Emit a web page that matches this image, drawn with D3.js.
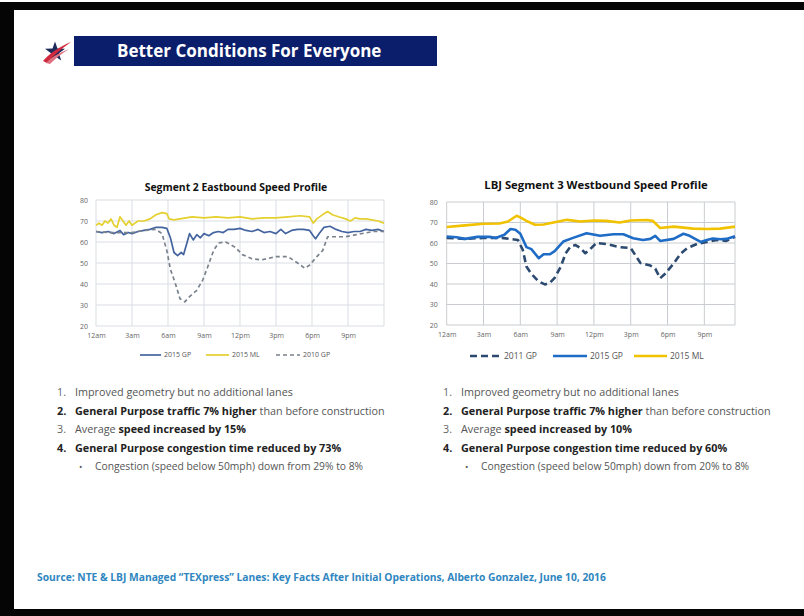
<!DOCTYPE html>
<html>
<head>
<meta charset="utf-8">
<script src="https://cdn.jsdelivr.net/npm/d3@7"></script>
<style>
  html, body { margin: 0; padding: 0; background: #fff; }
  svg { display: block; }
  text { font-family: "Open Sans", Lato, "DejaVu Sans", sans-serif; }
</style>
</head>
<body>
<svg id="slide" width="804" height="616"></svg>
<script>
// ---- Segment 2 Eastbound (hours after midnight, speed in mph) ----
const eb2015MLHours = [0,0.25,0.5,0.75,1,1.25,1.5,1.75,2,2.25,2.5,2.75,3,3.25,3.5,4,4.5,5,5.5,5.9,6.1,6.5,7,8,9,10,11,12,13,14,15,16,17,17.8,18.1,18.4,19,19.3,19.7,20.2,20.8,21.2,21.6,22,22.5,23,23.5,24];
const eb2015ML      = [68,69,68,70,69,71,68,67,72,70,68,70,68,69,70,70,71,73,74,73.5,71,70.5,71,72,71.5,72,71.5,72,71,71.5,71.5,72,72.5,72,69,71,73.5,74.5,73,72,71,70,71.5,71,71,70.5,70,69];
const eb2015GPHours = [0,0.5,1,1.5,2,2.3,2.7,3,3.5,4,4.5,5,5.5,5.9,6.2,6.5,6.8,7.1,7.3,7.6,7.8,8.1,8.4,8.7,9,9.4,9.8,10.2,10.6,11,11.5,12,12.5,13,13.5,14,14.5,15,15.4,15.8,16.3,16.8,17.3,17.8,18.1,18.3,18.6,19,19.5,20,20.5,21,21.5,22,22.5,23,23.5,24];
const eb2015GP      = [65,64.5,65,64,65.5,63.5,64.5,64,65,65.5,66,67,67,66.5,62,55,53.5,55,54,60,64,61,63.5,62,64,63,64.5,65,64.5,66,66,66.5,65.5,65,66,64.5,65,64,66,64,65.5,66,66,65.5,63,61.5,64,67,67.5,66,65,64.5,65,65,66,65.5,66,65];
const eb2010GPHours = [0,1,2,3,4,5,5.5,5.9,6.2,6.6,7,7.4,7.8,8.4,8.9,9.3,9.8,10.2,10.8,11.6,12.2,13,13.8,15,16,16.8,17.4,17.8,18.4,18.9,19.3,20,20.8,21.7,23.1,24];
const eb2010GP      = [65,64.5,64.5,64.5,65.5,66,64,56,47,40.5,33,31.5,34,37,42,48,56,59.5,60,57.5,54,52,51.5,53,53,50,47.5,49,53,56,62.5,62.5,62.5,63.5,65,65];

// ---- LBJ Segment 3 Westbound ----
const wb2015MLHours = [0,1.5,3,4.3,5,5.7,6,6.5,7.2,7.9,8.7,9.8,10.9,12,13,14.1,15,16.3,16.8,17.4,18.5,19.3,20.1,21.2,22.3,23.5];
const wb2015ML      = [67.8,68.6,69.4,69.5,70.5,73.3,72.5,70.8,68.9,69,70,71.3,70.5,71,70.8,70,71,71.2,70.8,67.3,68,67.5,67,66.8,67,68];
const wb2015GPHours = [0,0.8,1.5,2.5,3.5,4,4.7,5.2,5.6,6,6.5,6.9,7.5,7.9,8.4,8.8,9.5,10.3,11.4,12.5,13.6,14.4,15.2,16,16.6,17,17.4,18.5,19.3,19.8,20.7,21.2,21.7,22.3,22.8,23.5];
const wb2015GP      = [63.2,62.8,62,63,63,62.4,64,66.8,66.5,64.5,58,57,52.6,54.5,54.5,56,60.7,62.5,64.8,63.5,64.3,64.3,62.3,61.5,62,63.5,61,62,64.5,63.5,60.5,61.5,62.2,61.8,62,63.3];
const wb2011GPHours = [0,1.5,3,4.5,5.8,6.2,6.5,6.9,7.5,8,8.4,8.8,9.3,9.7,10.1,10.5,10.9,11.3,11.7,12.2,13,14.1,15,15.8,16.6,17,17.4,17.8,18.5,19.1,19.6,20.4,21.2,22,22.8,23.5];
const wb2011GP      = [62.5,62,62.5,62.5,61.5,56.7,48.5,45,41.2,39.8,40.5,43,48.5,55,58.3,59,57.5,55,57,60,59.5,58,57.5,50.2,49,47.5,42.8,45,50,55,57.5,59.5,60.5,61.5,61,63];

// Axis ticks
const yTicks = [20, 30, 40, 50, 60, 70, 80];
const hourTicks = [0, 3, 6, 9, 12, 15, 18, 21];
const ebHourLabels = ["12am", "3am", "6am", "9am", "12pm", "3pm", "6pm", "9pm"];
const wbHourLabels = ["12am", "3am", "6am", "9am", "12pm", "3pm", "6pm", "9pm"];

// Bullet text blocks (segments: [text, bold])
const ebNotes = [
  ["1.", [["Improved geometry but no additional lanes", false]]],
  ["2.", [["General Purpose traffic 7% higher", true], [" than before construction", false]]],
  ["3.", [["Average ", false], ["speed increased by 15%", true]]],
  ["4.", [["General Purpose congestion time reduced by 73%", true]]]
];
const ebSub = "Congestion (speed below 50mph) down from 29% to 8%";
const wbNotes = [
  ["1.", [["Improved geometry but no additional lanes", false]]],
  ["2.", [["General Purpose traffic 7% higher", true], [" than before construction", false]]],
  ["3.", [["Average ", false], ["speed increased by 10%", true]]],
  ["4.", [["General Purpose congestion time reduced by 60%", true]]]
];
const wbSub = "Congestion (speed below 50mph) down from 20% to 8%";

const svg = d3.select("#slide");

// ---- slide frame ----
svg.append("rect").attr("x", 0).attr("y", 0).attr("width", 804).attr("height", 616).attr("fill", "#fff");
svg.append("rect").attr("x", 0).attr("y", 2).attr("width", 804).attr("height", 8).attr("fill", "#050505");
svg.append("rect").attr("x", 0).attr("y", 2).attr("width", 14).attr("height", 614).attr("fill", "#050505");
svg.append("rect").attr("x", 0).attr("y", 609).attr("width", 804).attr("height", 7).attr("fill", "#050505");

// ---- header ----
svg.append("rect").attr("x", 74).attr("y", 36).attr("width", 363).attr("height", 30).attr("fill", "#0b1e6b");
svg.append("text").attr("x", 117).attr("y", 57).attr("fill", "#fff")
  .attr("font-size", 17).attr("font-weight", 700).text("Better Conditions For Everyone");

// star logo with swoosh
const logo = svg.append("g").attr("transform", "translate(55,52)");
const starPts = d3.range(10).map(i => {
  const r = i % 2 ? 4.2 : 10.5;
  const a = -Math.PI / 2 + i * Math.PI / 5;
  return [r * Math.cos(a), r * Math.sin(a)];
});
logo.append("path").attr("d", d3.line()(starPts) + "Z").attr("fill", "#1d2a5c");
logo.append("path").attr("d", "M-12,9 C-4,0 6,-6 16,-10 C6,-3 -2,4 -8,11 Z").attr("fill", "#d0283c");
logo.append("path").attr("d", "M-9,11 C-2,4 6,0 14,-3 C6,2 0,7 -5,12 Z").attr("fill", "#e07080");

// ---- chart builder ----
function drawChart(cfg) {
  const g = svg.append("g");
  const x = d3.scaleLinear().domain(cfg.xDomain).range([cfg.left, cfg.right]);
  const y = d3.scaleLinear().domain([20, 80]).range([cfg.bottom, cfg.top]);

  // gridlines
  g.append("g").selectAll("line").data(yTicks).join("line")
    .attr("x1", cfg.left).attr("x2", cfg.right)
    .attr("y1", d => y(d)).attr("y2", d => y(d))
    .attr("stroke", cfg.gridColor).attr("stroke-width", 1);
  g.append("g").selectAll("line").data(hourTicks.concat([cfg.xDomain[1]])).join("line")
    .attr("x1", d => x(d)).attr("x2", d => x(d))
    .attr("y1", cfg.top).attr("y2", cfg.bottom)
    .attr("stroke", cfg.gridColor).attr("stroke-width", 1);

  // axes (labels only)
  const yAxis = d3.axisLeft(y).tickValues(yTicks).tickSize(0).tickPadding(cfg.yPad);
  const ya = g.append("g").attr("transform", `translate(${cfg.left},0)`).call(yAxis);
  ya.select(".domain").remove();
  ya.selectAll("text").attr("font-size", cfg.tickSize).attr("fill", "#666")
    .attr("font-family", "Lato, sans-serif");

  const xAxis = d3.axisBottom(x).tickValues(hourTicks).tickSize(0).tickPadding(cfg.xPad)
    .tickFormat((d, i) => cfg.hourLabels[i]);
  const xa = g.append("g").attr("transform", `translate(0,${cfg.bottom})`).call(xAxis);
  xa.select(".domain").remove();
  xa.selectAll("text").attr("font-size", cfg.tickSize).attr("fill", "#666")
    .attr("font-family", "Lato, sans-serif");

  // title
  g.append("text").attr("x", cfg.titleX).attr("y", cfg.titleY).attr("text-anchor", "middle")
    .attr("font-size", cfg.titleSize).attr("font-weight", 700).attr("fill", "#111").text(cfg.title);

  // series
  const line = d3.line().x(d => x(d[0])).y(d => y(d[1])).curve(d3.curveLinear);
  cfg.series.forEach(s => {
    g.append("path").datum(d3.zip(s.hours, s.values))
      .attr("d", line).attr("fill", "none")
      .attr("stroke", s.color).attr("stroke-width", s.width)
      .attr("stroke-dasharray", s.dash || null)
      .attr("stroke-linejoin", "round");
  });

  // legend
  const lg = g.append("g");
  cfg.legend.forEach(item => {
    const s = cfg.series.find(d => d.name === item.name);
    lg.append("line").attr("x1", item.x).attr("x2", item.x + item.len)
      .attr("y1", cfg.legendY).attr("y2", cfg.legendY)
      .attr("stroke", s.color).attr("stroke-width", s.width).attr("stroke-dasharray", s.dash || null);
    lg.append("text").attr("x", item.x + item.len + 3).attr("y", cfg.legendY + cfg.legendSize * 0.35)
      .attr("font-size", cfg.legendSize).attr("fill", "#555")
      .attr("font-family", "Lato, sans-serif").text(s.name);
  });
}

drawChart({
  title: "Segment 2 Eastbound Speed Profile", titleX: 236, titleY: 191, titleSize: 10.4,
  left: 96, right: 384, top: 200, bottom: 326, xDomain: [0, 24],
  gridColor: "#d9dde3", tickSize: 7, yPad: 8, xPad: 7, hourLabels: ebHourLabels,
  series: [
    { name: "2015 GP", hours: eb2015GPHours, values: eb2015GP, color: "#44649f", width: 1.7 },
    { name: "2015 ML", hours: eb2015MLHours, values: eb2015ML, color: "#e4d02e", width: 1.7 },
    { name: "2010 GP", hours: eb2010GPHours, values: eb2010GP, color: "#7a838d", width: 1.7, dash: "4,3" }
  ],
  legendY: 355, legendSize: 7,
  legend: [ { name: "2015 GP", x: 140, len: 21 }, { name: "2015 ML", x: 206, len: 23 }, { name: "2010 GP", x: 276, len: 24 } ]
});

drawChart({
  title: "LBJ Segment 3 Westbound Speed Profile", titleX: 596, titleY: 189, titleSize: 11.3,
  left: 446.7, right: 735, top: 202, bottom: 325, xDomain: [0, 23.5],
  gridColor: "#c9ccd0", tickSize: 7, yPad: 9, xPad: 7, hourLabels: wbHourLabels,
  series: [
    { name: "2011 GP", hours: wb2011GPHours, values: wb2011GP, color: "#2c4a70", width: 2.6, dash: "7,4" },
    { name: "2015 GP", hours: wb2015GPHours, values: wb2015GP, color: "#1f6cc6", width: 2.6 },
    { name: "2015 ML", hours: wb2015MLHours, values: wb2015ML, color: "#f1c200", width: 2.6 }
  ],
  legendY: 356, legendSize: 8.5,
  legend: [ { name: "2011 GP", x: 470, len: 31 }, { name: "2015 GP", x: 553, len: 34 }, { name: "2015 ML", x: 634, len: 33 } ]
});

// ---- notes ----
function drawNotes(x0, notes, sub) {
  const g = svg.append("g");
  const ys = [396, 415, 433, 452];
  notes.forEach((n, i) => {
    g.append("text").attr("x", x0).attr("y", ys[i]).attr("font-size", 10.8)
      .attr("font-weight", i === 1 || i === 3 ? 700 : 400)
      .attr("fill", i === 1 || i === 3 ? "#222" : "#666").text(n[0]);
    const t = g.append("text").attr("x", x0 + 18).attr("y", ys[i]).attr("font-size", 10.8);
    n[1].forEach(seg => {
      t.append("tspan").attr("font-weight", seg[1] ? 700 : 400)
        .attr("fill", seg[1] ? "#222" : "#555").text(seg[0]);
    });
  });
  g.append("text").attr("x", x0 + 22).attr("y", 470).attr("font-size", 9).attr("fill", "#555").text("•");
  g.append("text").attr("x", x0 + 38).attr("y", 470).attr("font-size", 10.3).attr("fill", "#555").text(sub);
}
drawNotes(57, ebNotes, ebSub);
drawNotes(443, wbNotes, wbSub);

// ---- source ----
svg.append("text").attr("x", 37).attr("y", 581).attr("font-size", 10.25).attr("font-weight", 700)
  .attr("fill", "#2f86c0")
  .text("Source:  NTE & LBJ Managed \u201CTEXpress\u201D Lanes: Key Facts After Initial Operations, Alberto Gonzalez, June 10, 2016");
</script>
</body>
</html>
